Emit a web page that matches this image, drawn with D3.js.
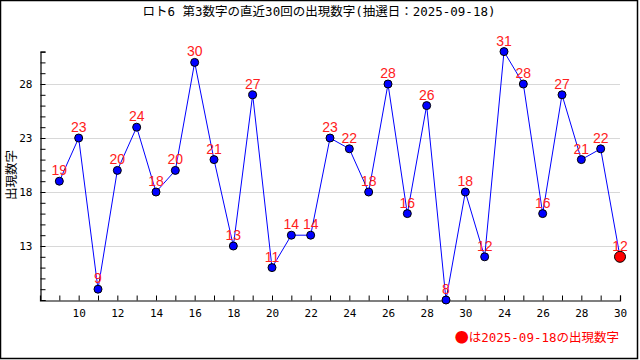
<!DOCTYPE html>
<html>
<head>
<meta charset="utf-8">
<script src="https://cdn.jsdelivr.net/npm/d3@7"></script>
<style>
html,body{margin:0;padding:0;background:#fff;}
svg{display:block;}
</style>
</head>
<body>
<script>
const titleText = "ロト6 第3数字の直近30回の出現数字(抽選日：2025-09-18)";
const yLabel = "出現数字";
const legendMark = "●";
const legendText = "は2025-09-18の出現数字";
const draws = d3.range(1, 31);
const values = [19,23,9,20,24,18,20,30,21,13,27,11,14,14,23,22,18,28,16,26,8,18,12,31,28,16,27,21,22,12];
const xTickLabels = ["10","12","14","16","18","20","22","24","26","28","30","24","26","28","30"];
const yTickLabels = [13,18,23,28];

const W = 640, H = 360;
const svg = d3.select("body").append("svg").attr("width", W).attr("height", H);

svg.append("rect").attr("x",0.5).attr("y",0.5).attr("width",637).attr("height",358)
  .attr("fill","#fff").attr("stroke","#000").attr("stroke-width",1.5);

const x = d3.scaleLinear().domain([0, 30]).range([40, 620]);
const y = d3.scaleLinear().domain([8, 31]).range([300, 51.6]);

const monoFont = "'DejaVu Sans Mono', 'Noto Sans CJK JP', monospace";

// gridlines
svg.append("g").selectAll("line").data(yTickLabels).join("line")
  .attr("x1", 40).attr("x2", 620)
  .attr("y1", d => Math.round(y(d)) + 0.5).attr("y2", d => Math.round(y(d)) + 0.5)
  .attr("stroke", "#d8d8d8").attr("stroke-width", 1);

// y axis
const yAxis = d3.axisLeft(y).tickValues(d3.range(8, 32)).tickSize(-5)
  .tickFormat(d => yTickLabels.includes(d) ? d : "").tickPadding(8);
const gy = svg.append("g").attr("transform", "translate(40.5,0)").call(yAxis);
gy.select(".domain").attr("stroke", "#000").attr("stroke-width", 1.2);
gy.selectAll(".tick line").attr("stroke", "#000");
gy.selectAll(".tick text").attr("font-family", monoFont).attr("font-size", 11).attr("fill", "#000");

// x axis
const labelMap = {};
draws.filter(d => d % 2 === 0).forEach((d, i) => labelMap[d] = xTickLabels[i]);
const xAxis = d3.axisBottom(x).tickValues(draws).tickSize(-5)
  .tickFormat(d => labelMap[d] || "").tickPadding(9);
const gx = svg.append("g").attr("transform", "translate(0,300.5)").call(xAxis);
gx.select(".domain").attr("stroke", "#000").attr("stroke-width", 1.2);
gx.selectAll(".tick line").attr("stroke", "#000");
gx.selectAll(".tick text").attr("font-family", monoFont).attr("font-size", 11).attr("fill", "#000");

// line
const line = d3.line().x((d, i) => x(draws[i])).y(d => y(d));
svg.append("path").datum(values).attr("d", line)
  .attr("fill", "none").attr("stroke", "#0000ff").attr("stroke-width", 1);

// points
svg.append("g").selectAll("circle").data(values).join("circle")
  .attr("cx", (d, i) => x(draws[i])).attr("cy", d => y(d))
  .attr("r", (d, i) => i === values.length - 1 ? 5.5 : 4)
  .attr("fill", (d, i) => i === values.length - 1 ? "#ff0000" : "#0000ff")
  .attr("stroke", "#000").attr("stroke-width", 1);

// value labels
svg.append("g").selectAll("text").data(values).join("text")
  .attr("x", (d, i) => x(draws[i])).attr("y", d => y(d) - 6)
  .attr("text-anchor", "middle")
  .attr("font-family", "'Liberation Sans Narrow', 'Liberation Sans', sans-serif")
  .attr("font-size", 14).attr("fill", "#ff2020")
  .text(d => d);

// title
svg.append("text").attr("x", 319).attr("y", 16).attr("text-anchor", "middle")
  .attr("font-family", monoFont).attr("font-size", 12.5).attr("fill", "#000")
  .text(titleText);

// y label
svg.append("text").attr("transform", "translate(10.5,175) rotate(-90)")
  .attr("text-anchor", "middle").attr("dominant-baseline", "central")
  .attr("font-family", "'Noto Sans CJK JP', sans-serif").attr("font-size", 12.5).attr("fill", "#000")
  .text(yLabel);

// legend
const leg = svg.append("text").attr("x", 619).attr("y", 342).attr("text-anchor", "end")
  .attr("font-family", monoFont).attr("font-size", 12.5).attr("fill", "#ff0000");
leg.append("tspan").attr("font-family", "'Noto Sans CJK JP', sans-serif").attr("font-size", 14).text(legendMark);
leg.append("tspan").text(legendText);
</script>
</body>
</html>
